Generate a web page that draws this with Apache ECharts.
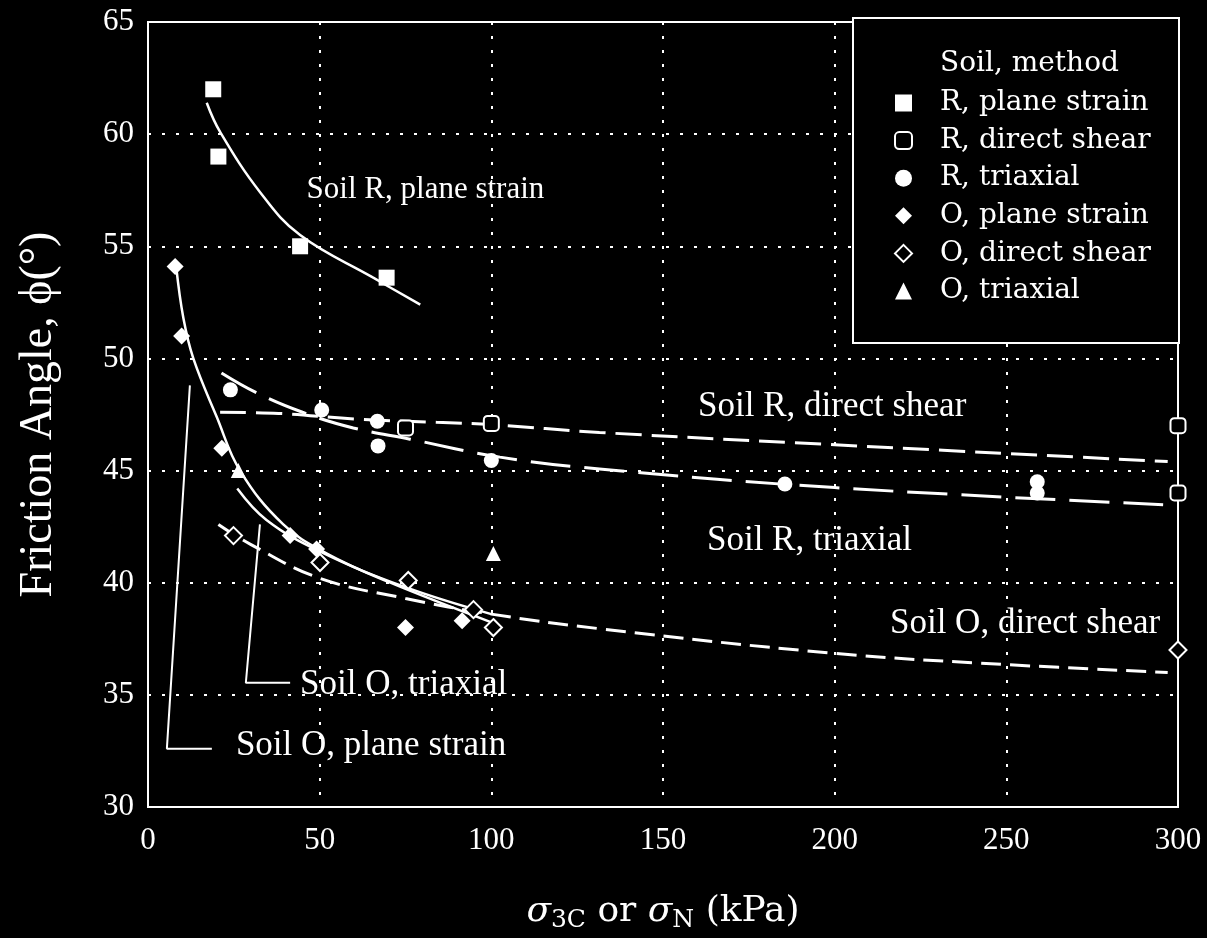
<!DOCTYPE html>
<html><head><meta charset="utf-8">
<script src="https://cdn.jsdelivr.net/npm/echarts@6/dist/echarts.min.js"></script>
<style>html,body{margin:0;padding:0;background:#000}#c{width:1207px;height:938px}</style>
</head><body><div id="c"></div><script>
// ---- measured points ----
const rPlaneX = [19, 20.5, 44.3, 69.5];
const rPlaneY = [62.0, 59.0, 55.0, 53.6];
const rDirectX = [75, 100, 300, 300];
const rDirectY = [46.9, 47.1, 47.0, 44.0];
const rTriX = [24, 50.6, 66.8, 67, 100, 185.5, 259, 259];
const rTriY = [48.6, 47.7, 47.2, 46.1, 45.45, 44.4, 44.5, 44.0];
const oPlaneX = [7.9, 9.8, 21.5, 41.4, 49.1, 75, 91.5];
const oPlaneY = [54.1, 51.0, 46.0, 42.1, 41.5, 38.0, 38.3];
const oDirectX = [24.9, 50.1, 75.8, 94.8, 100.6, 300];
const oDirectY = [42.1, 40.9, 40.1, 38.8, 38.0, 37.0];
const oTriX = [26.3, 100.6];
const oTriY = [45.0, 41.3];

// ---- fitted curves ----
const fitRPlaneX = [17.1, 21, 32.7, 44.3, 65.6, 79.3];
const fitRPlaneY = [61.4, 60.1, 57.4, 55.5, 53.6, 52.4];
const fitRDirectX = [21, 38, 60, 84, 100, 131.5, 200, 297];
const fitRDirectY = [47.6, 47.55, 47.3, 47.15, 47.05, 46.7, 46.15, 45.4];
const fitRTriX = [21.4, 31.6, 45, 59.8, 76.3, 102.5, 131.5, 200, 297];
const fitRTriY = [49.35, 48.47, 47.6, 46.9, 46.4, 45.6, 45.07, 44.24, 43.47];
const fitOPlaneX = [8.2, 10.3, 13.2, 20, 26.8, 39.4, 52.1, 70.6, 100.6];
const fitOPlaneY = [54.1, 51.8, 50.0, 47.4, 45.0, 42.6, 41.3, 40.0, 38.2];
const fitOTriX = [26, 34.5, 50, 75, 100];
const fitOTriY = [44.2, 42.8, 41.4, 39.8, 38.6];
const fitODirectX = [20.5, 30, 50, 75, 100, 131.5, 200, 250, 297];
const fitODirectY = [42.6, 41.7, 40.2, 39.3, 38.6, 37.95, 36.85, 36.35, 36.0];

// ---- leader lines for labels ----
const leadOPlaneX = [12.2, 5.5, 18.6];
const leadOPlaneY = [48.8, 32.6, 32.6];
const leadOTriX = [32.6, 28.5, 41.4];
const leadOTriY = [42.6, 35.54, 35.54];

// ---- annotation labels ----
const labelTexts = ['Soil R, plane strain', 'Soil R, direct shear', 'Soil R, triaxial',
  'Soil O, direct shear', 'Soil O, triaxial', 'Soil O, plane strain'];
const labelX = [46.2, 160.2, 162.8, 216.1, 44.3, 25.6];
const labelY = [57.5, 47.85, 41.85, 38.15, 35.45, 32.75];

// ---- axes ----
const xTicks = [0, 50, 100, 150, 200, 250, 300];
const yTicks = [30, 35, 40, 45, 50, 55, 60, 65];
const legendNames = ['R, plane strain', 'R, direct shear', 'R, triaxial',
  'O, plane strain', 'O, direct shear', 'O, triaxial'];

const zip = (a, b) => a.map((v, i) => [v, b[i]]);
const FONT = 'Liberation Serif';
const WFONT = 'DejaVu Serif';
const W = '#ffffff';

function pts(name, xs, ys, symbol, size, open) {
  return {
    name, type: 'scatter', data: zip(xs, ys), symbol, symbolSize: size, z: 5,
    itemStyle: open ? { color: '#000', borderColor: W, borderWidth: 2, opacity: 1 }
                    : { color: W, opacity: 1 }
  };
}
function fit(xs, ys, dash, width) {
  return {
    type: 'line', data: zip(xs, ys), smooth: 0.4, showSymbol: false, symbol: 'none',
    silent: true, z: 3,
    lineStyle: { color: W, width: width || 2.5, type: dash || 'solid' }
  };
}

const chart = echarts.init(document.getElementById('c'), null, { renderer: 'canvas' });
chart.setOption({
  backgroundColor: '#000',
  animation: false,
  grid: { left: 148, right: 29, top: 22, bottom: 126, show: true, borderColor: W, borderWidth: 2 },
  xAxis: {
    type: 'value', min: xTicks[0], max: xTicks[xTicks.length - 1], interval: 50,
    axisLine: { show: true, lineStyle: { color: W, width: 2 } },
    axisTick: { show: false },
    axisLabel: { color: W, fontFamily: FONT, fontSize: 31, margin: 18 },
    splitLine: { show: true, lineStyle: { color: W, width: 2, type: [3, 11] } },
    name: '{i|σ}{s|3C} {w|or} {i|σ}{s|N} {w|(kPa)}', nameLocation: 'middle', nameGap: 84,
    nameTextStyle: {
      color: W, fontFamily: WFONT, fontSize: 36,
      rich: {
        i: { color: W, fontFamily: WFONT, fontSize: 36, fontStyle: 'italic' },
        w: { color: W, fontFamily: WFONT, fontSize: 36 },
        s: { color: W, fontFamily: WFONT, fontSize: 25, verticalAlign: 'bottom', padding: [17, 0, 0, 0] }
      }
    }
  },
  yAxis: {
    type: 'value', min: yTicks[0], max: yTicks[yTicks.length - 1], interval: 5,
    axisLine: { show: true, lineStyle: { color: W, width: 2 } },
    axisTick: { show: false },
    axisLabel: { color: W, fontFamily: FONT, fontSize: 31, margin: 14 },
    splitLine: { show: true, lineStyle: { color: W, width: 2, type: [3, 11] } },
    name: 'Friction Angle, ϕ(°)', nameLocation: 'middle', nameGap: 86,
    nameTextStyle: { color: W, fontFamily: FONT, fontSize: 46 }
  },
  legend: {
    data: legendNames, orient: 'vertical', left: 889, top: 84, z: 20,
    itemWidth: 17, itemHeight: 17, itemGap: 9.6,
    textStyle: { color: W, fontFamily: WFONT, fontSize: 28, lineHeight: 22, padding: [0, 0, 0, 23] },
    inactiveColor: '#777', selectedMode: false
  },
  graphic: [
    { type: 'rect', z: 10, shape: { x: 853, y: 18, width: 326, height: 325 },
      style: { fill: '#000', stroke: W, lineWidth: 2 } },
    { type: 'text', z: 11, left: 940, top: 50,
      style: { text: 'Soil, method', fill: W, font: '28px "' + WFONT + '"' } }
  ],
  series: [
    fit(fitRPlaneX, fitRPlaneY, 'solid', 2.5),
    fit(fitRDirectX, fitRDirectY, [26, 10], 3),
    fit(fitRTriX, fitRTriY, [40, 14], 3),
    fit(fitOPlaneX, fitOPlaneY, 'solid', 2.5),
    fit(fitOTriX, fitOTriY, 'solid', 2.5),
    fit(fitODirectX, fitODirectY, [20, 9], 3),
    { type: 'line', data: zip(leadOPlaneX, leadOPlaneY), showSymbol: false, symbol: 'none', silent: true,
      lineStyle: { color: W, width: 2 } },
    { type: 'line', data: zip(leadOTriX, leadOTriY), showSymbol: false, symbol: 'none', silent: true,
      lineStyle: { color: W, width: 2 } },
    pts('R, plane strain', rPlaneX, rPlaneY, 'rect', 16, false),
    pts('R, direct shear', rDirectX, rDirectY, 'roundRect', 15, true),
    pts('R, triaxial', rTriX, rTriY, 'circle', 15, false),
    pts('O, plane strain', oPlaneX, oPlaneY, 'diamond', 17, false),
    pts('O, direct shear', oDirectX, oDirectY, 'diamond', 17, true),
    pts('O, triaxial', oTriX, oTriY, 'triangle', 15, false),
    {
      type: 'scatter', silent: true, symbolSize: 0, z: 6,
      itemStyle: { opacity: 1, color: W },
      data: labelTexts.map((t, i) => ({
        name: t, value: [labelX[i], labelY[i]],
        label: { fontSize: i === 0 ? 31 : 35 }
      })),
      label: { show: true, position: 'right', distance: 0, formatter: p => p.name,
        color: W, opacity: 1, fontFamily: FONT, fontSize: 35 }
    }
  ]
});
</script></body></html>
